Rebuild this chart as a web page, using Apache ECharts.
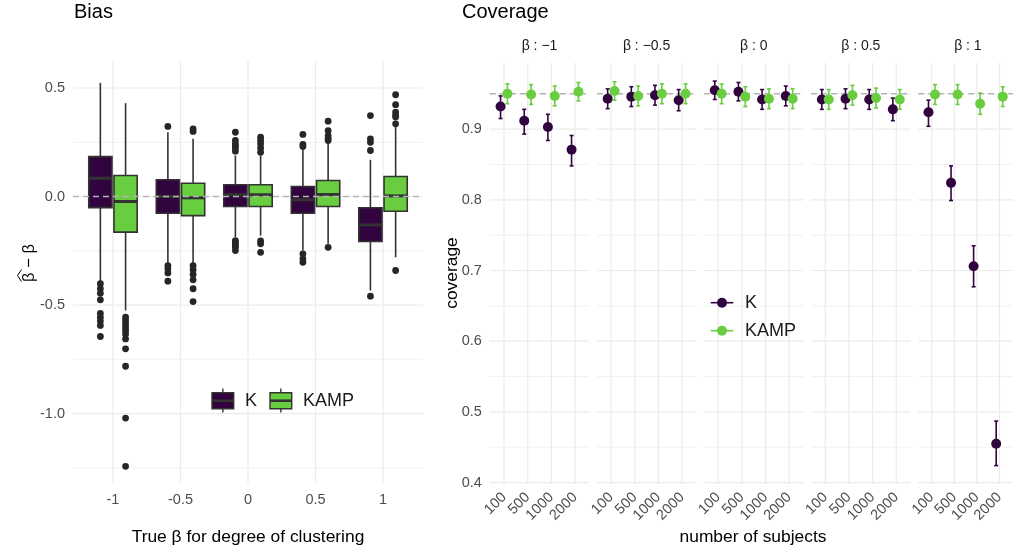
<!DOCTYPE html>
<html>
<head>
<meta charset="utf-8">
<script src="https://cdn.jsdelivr.net/npm/echarts@6/dist/echarts.min.js"></script>
<style>
  html, body { margin: 0; padding: 0; background: #ffffff; }
  #chart { width: 1013px; height: 551px; }
</style>
</head>
<body>
<div id="chart"></div>
<script>
// ---- data -------------------------------------------------------------
const betaLevels = [-1, -0.5, 0, 0.5, 1];
const methodNames = ['K', 'KAMP'];

// bias of beta-hat: [lower whisker, Q1, median, Q3, upper whisker] per beta level
const biasK = [
  [-0.395, -0.051, 0.084, 0.184, 0.524],
  [-0.307, -0.077, 0.000, 0.077, 0.296],
  [-0.187, -0.046, 0.008, 0.054, 0.189],
  [-0.249, -0.077, -0.015, 0.046, 0.215],
  [-0.433, -0.207, -0.131, -0.052, 0.169]
];
const biasKAMP = [
  [-0.525, -0.164, -0.023, 0.097, 0.430],
  [-0.307, -0.088, -0.006, 0.061, 0.266],
  [-0.180, -0.046, 0.008, 0.054, 0.189],
  [-0.218, -0.046, 0.009, 0.074, 0.250],
  [-0.280, -0.068, 0.003, 0.092, 0.320]
];
// points beyond the whiskers
const outliersK = [
  [-0.402, -0.425, -0.446, -0.476, -0.538, -0.556, -0.574, -0.594, -0.645],
  [0.323, -0.318, -0.333, -0.352, -0.390],
  [0.296, 0.258, 0.243, 0.234, 0.224, 0.209, -0.203, -0.210, -0.218, -0.226, -0.234, -0.249],
  [0.286, 0.240, 0.230, -0.264, -0.287, -0.303],
  [0.373, 0.266, 0.250, 0.212, -0.459]
];
const outliersKAMP = [
  [-0.556, -0.571, -0.587, -0.602, -0.617, -0.633, -0.656, -0.702, -0.782, -1.021, -1.243],
  [0.312, 0.300, -0.318, -0.338, -0.359, -0.384, -0.425, -0.484],
  [0.273, 0.258, 0.243, 0.224, 0.204, -0.205, -0.218, -0.257],
  [0.347, 0.304, 0.281, 0.268, 0.258, -0.234],
  [0.469, 0.423, 0.389, 0.375, 0.366, 0.335, -0.341]
];
const biasTarget = 0;
const biasTicks = [-1, -0.5, 0, 0.5];
const biasMinorTicks = [-1.25, -0.75, -0.25, 0.25];

// coverage per beta facet (rows) and number of subjects (columns)
const nSubjects = ['100', '500', '1000', '2000'];
const coverageK = [
  [0.932, 0.912, 0.903, 0.871],
  [0.943, 0.946, 0.948, 0.941],
  [0.955, 0.953, 0.942, 0.947],
  [0.942, 0.943, 0.942, 0.928],
  [0.924, 0.824, 0.706, 0.455]
];
const coverageKLower = [
  [0.915, 0.893, 0.884, 0.848],
  [0.929, 0.932, 0.934, 0.926],
  [0.942, 0.940, 0.928, 0.933],
  [0.928, 0.929, 0.928, 0.912],
  [0.904, 0.799, 0.677, 0.424]
];
const coverageKUpper = [
  [0.947, 0.928, 0.921, 0.891],
  [0.957, 0.960, 0.962, 0.956],
  [0.968, 0.966, 0.956, 0.961],
  [0.956, 0.957, 0.956, 0.944],
  [0.941, 0.848, 0.735, 0.487]
];
const coverageKAMP = [
  [0.950, 0.949, 0.947, 0.953],
  [0.954, 0.947, 0.950, 0.950],
  [0.950, 0.946, 0.943, 0.943],
  [0.942, 0.948, 0.944, 0.942],
  [0.949, 0.949, 0.936, 0.946]
];
const coverageKAMPLower = [
  [0.936, 0.935, 0.933, 0.940],
  [0.941, 0.933, 0.936, 0.936],
  [0.936, 0.932, 0.929, 0.929],
  [0.928, 0.934, 0.930, 0.928],
  [0.935, 0.935, 0.921, 0.932]
];
const coverageKAMPUpper = [
  [0.964, 0.963, 0.961, 0.966],
  [0.967, 0.961, 0.964, 0.964],
  [0.964, 0.960, 0.957, 0.957],
  [0.956, 0.962, 0.958, 0.956],
  [0.963, 0.963, 0.951, 0.960]
];
const nominalCoverage = 0.95;
const coverageTicks = [0.4, 0.5, 0.6, 0.7, 0.8, 0.9];
const coverageMinorTicks = [0.45, 0.55, 0.65, 0.75, 0.85, 0.95];

// ---- styling ----------------------------------------------------------
const FONT = '"Liberation Sans", Arial, Helvetica, sans-serif';
const COLORS = ['#32043F', '#69CD40'];
const INK = '#333333';
const AXIS_TEXT = '#4d4d4d';
const GRID_COLOR = '#ebebeb';

// layout of the two panels
const biasGrid = { left: 73, top: 60, width: 350, height: 423 };
const facetLeft0 = 489.8, facetPitch = 107.1, facetWidth = 99.4;
const facetTop = 62.7, facetHeight = 421.3;

// ---- helpers ----------------------------------------------------------
// background grid lines: kind 0 = vertical, 1 = horizontal major, 2 = horizontal minor
function gridLineSeries(axisIdx, xs, xMin, yMajor, yMinor, yMin) {
  const data = [];
  xs.forEach(v => data.push([v, yMin, 0]));
  yMajor.forEach(v => data.push([xMin, v, 1]));
  yMinor.forEach(v => data.push([xMin, v, 2]));
  return {
    type: 'custom', xAxisIndex: axisIdx, yAxisIndex: axisIdx, z: 1, silent: true,
    data: data,
    renderItem(params, api) {
      const cs = params.coordSys;
      const p = api.coord([api.value(0), api.value(1)]);
      const kind = api.value(2);
      const shape = kind === 0
        ? { x1: p[0], y1: cs.y, x2: p[0], y2: cs.y + cs.height }
        : { x1: cs.x, y1: p[1], x2: cs.x + cs.width, y2: p[1] };
      return { type: 'line', shape, style: { stroke: GRID_COLOR, lineWidth: kind === 2 ? 0.7 : 1.2 } };
    }
  };
}

// dashed horizontal reference line
function refLineSeries(axisIdx, xMin, value, z) {
  return {
    type: 'custom', xAxisIndex: axisIdx, yAxisIndex: axisIdx, z: z, silent: true,
    data: [[xMin, value]],
    renderItem(params, api) {
      const cs = params.coordSys;
      const p = api.coord([api.value(0), api.value(1)]);
      return {
        type: 'line',
        shape: { x1: cs.x, y1: p[1], x2: cs.x + cs.width, y2: p[1] },
        style: { stroke: '#b5b5b5', lineWidth: 1.4, lineDash: [6, 4] }
      };
    }
  };
}

// dodged box plots drawn through the axis scales
function boxSeries(m, summary, color) {
  const side = m === 0 ? -1 : 1;
  return {
    type: 'custom', name: methodNames[m], xAxisIndex: 0, yAxisIndex: 0, z: 3, silent: true,
    data: summary.map((s, i) => [betaLevels[i]].concat(s)),
    renderItem(params, api) {
      const x0 = api.coord([api.value(0), 0])[0];
      const unit = api.coord([0.5, 0])[0] - api.coord([0, 0])[0];
      const cx = x0 + side * 0.1867 * unit;
      const hw = 0.172 * unit;
      const y = k => api.coord([0, api.value(k)])[1];
      const yLo = y(1), yQ1 = y(2), yMed = y(3), yQ3 = y(4), yHi = y(5);
      return {
        type: 'group',
        children: [
          { type: 'line', shape: { x1: cx, y1: yQ3, x2: cx, y2: yHi }, style: { stroke: INK, lineWidth: 1.6 } },
          { type: 'line', shape: { x1: cx, y1: yQ1, x2: cx, y2: yLo }, style: { stroke: INK, lineWidth: 1.6 } },
          { type: 'rect', shape: { x: cx - hw, y: yQ3, width: 2 * hw, height: yQ1 - yQ3 },
            style: { fill: color, stroke: INK, lineWidth: 1.6 } },
          { type: 'line', shape: { x1: cx - hw, y1: yMed, x2: cx + hw, y2: yMed }, style: { stroke: INK, lineWidth: 3 } }
        ]
      };
    }
  };
}

function outlierSeries(m, outliers) {
  const side = m === 0 ? -1 : 1;
  const data = [];
  outliers.forEach((arr, i) => arr.forEach(v => data.push([betaLevels[i], v])));
  return {
    type: 'custom', xAxisIndex: 0, yAxisIndex: 0, z: 3, silent: true,
    data: data,
    renderItem(params, api) {
      const p = api.coord([api.value(0), api.value(1)]);
      const unit = api.coord([0.5, 0])[0] - api.coord([0, 0])[0];
      return { type: 'circle', shape: { cx: p[0] + side * 0.1867 * unit, cy: p[1], r: 3.4 }, style: { fill: '#262626' } };
    }
  };
}

// point + error bar for one method inside one facet
function coverageSeries(f, m, cov, lo, hi, color) {
  const side = m === 0 ? -1 : 1;
  return {
    type: 'custom', xAxisIndex: 1 + f, yAxisIndex: 1 + f, z: 3 + m, silent: true,
    data: cov[f].map((v, i) => [i, v, lo[f][i], hi[f][i]]),
    renderItem(params, api) {
      const unit = api.coord([1, 0.5])[0] - api.coord([0, 0.5])[0];
      const cx = api.coord([api.value(0), 0.5])[0] + side * 0.145 * unit;
      const yP = api.coord([0, api.value(1)])[1];
      const yL = api.coord([0, api.value(2)])[1];
      const yH = api.coord([0, api.value(3)])[1];
      const st = { stroke: color, lineWidth: 1.6 };
      return {
        type: 'group',
        children: [
          { type: 'line', shape: { x1: cx, y1: yL, x2: cx, y2: yH }, style: st },
          { type: 'line', shape: { x1: cx - 2, y1: yL, x2: cx + 2, y2: yL }, style: st },
          { type: 'line', shape: { x1: cx - 2, y1: yH, x2: cx + 2, y2: yH }, style: st },
          { type: 'circle', shape: { cx: cx, cy: yP, r: 5 }, style: { fill: color } }
        ]
      };
    }
  };
}

function txt(text, x, y, size, color, extra) {
  return Object.assign({
    type: 'text', x: x, y: y, z: 20, silent: true,
    style: {
      text: text, fontSize: size, fontFamily: FONT, fill: color,
      align: 'left', textAlign: 'left', verticalAlign: 'middle', textVerticalAlign: 'middle'
    }
  }, extra || {});
}
function centered(el) {
  el.style.align = 'center'; el.style.textAlign = 'center';
  return el;
}
function shape(type, shp, style) {
  return { type: type, z: 20, silent: true, shape: shp, style: style };
}

// ---- axes and grids ---------------------------------------------------
const grids = [biasGrid];
const xAxes = [{
  gridIndex: 0, type: 'value', min: -1.296, max: 1.296,
  axisLine: { show: false }, axisTick: { show: false }, splitLine: { show: false },
  axisLabel: { customValues: betaLevels, formatter: v => String(v), color: AXIS_TEXT, fontSize: 14.5, fontFamily: FONT, margin: 9 }
}];
const yAxes = [{
  gridIndex: 0, type: 'value', min: -1.32, max: 0.629,
  axisLine: { show: false }, axisTick: { show: false }, splitLine: { show: false },
  axisLabel: { customValues: biasTicks, formatter: v => v.toFixed(1), color: AXIS_TEXT, fontSize: 14.5, fontFamily: FONT, margin: 8 }
}];
const facetIdx = [0, 1, 2, 3];
betaLevels.forEach((b, f) => {
  grids.push({ left: facetLeft0 + f * facetPitch, top: facetTop, width: facetWidth, height: facetHeight });
  xAxes.push({
    gridIndex: 1 + f, type: 'value', min: -0.6, max: 3.6,
    axisLine: { show: false }, axisTick: { show: false }, splitLine: { show: false },
    axisLabel: { customValues: facetIdx, formatter: v => nSubjects[Math.round(v)], rotate: 45,
      color: AXIS_TEXT, fontSize: 14.5, fontFamily: FONT, margin: 11 }
  });
  yAxes.push({
    gridIndex: 1 + f, type: 'value', min: 0.398, max: 0.994,
    axisLine: { show: false }, axisTick: { show: false }, splitLine: { show: false },
    axisLabel: { show: f === 0, customValues: coverageTicks, formatter: v => v.toFixed(1),
      color: AXIS_TEXT, fontSize: 14.5, fontFamily: FONT, margin: 8 }
  });
});

// ---- series -----------------------------------------------------------
const series = [
  gridLineSeries(0, betaLevels, -1.296, biasTicks, biasMinorTicks, -1.32),
  boxSeries(0, biasK, COLORS[0]),
  boxSeries(1, biasKAMP, COLORS[1]),
  outlierSeries(0, outliersK),
  outlierSeries(1, outliersKAMP),
  refLineSeries(0, -1.296, biasTarget, 5)
];
betaLevels.forEach((b, f) => {
  series.push(gridLineSeries(1 + f, facetIdx, -0.6, coverageTicks, coverageMinorTicks, 0.398));
  series.push(refLineSeries(1 + f, -0.6, nominalCoverage, 2));
  series.push(coverageSeries(f, 0, coverageK, coverageKLower, coverageKUpper, COLORS[0]));
  series.push(coverageSeries(f, 1, coverageKAMP, coverageKAMPLower, coverageKAMPUpper, COLORS[1]));
});

// ---- titles, strips, legends ------------------------------------------
const graphics = [
  txt('Bias', 74, 12, 20, '#000000'),
  txt('Coverage', 462, 12, 20, '#000000'),
  // estimator minus truth, with a hat over the first beta
  centered(txt('β − β', 29, 263, 16.5, '#000000', { rotation: Math.PI / 2 })),
  shape('polyline', { points: [[21.5, 269.5], [17.5, 275.5], [21.5, 281.5]] }, { stroke: '#000000', lineWidth: 1, fill: null }),
  centered(txt('coverage', 452, 273, 17.4, '#000000', { rotation: Math.PI / 2 })),
  centered(txt('True β for degree of clustering', 248, 537, 17.4, '#000000')),
  centered(txt('number of subjects', 753, 537, 17.4, '#000000'))
];
betaLevels.forEach((b, f) => {
  const label = 'β : ' + (b < 0 ? '−' + Math.abs(b) : String(b));
  graphics.push(centered(txt(label, facetLeft0 + f * facetPitch + facetWidth / 2, 46.5, 14, '#1a1a1a')));
});
// box legend in the bias panel
[212, 270].forEach((kx, m) => {
  const cx = kx + 10.85;
  graphics.push(shape('line', { x1: cx, y1: 388.5, x2: cx, y2: 412.5 }, { stroke: INK, lineWidth: 1.4 }));
  graphics.push(shape('rect', { x: kx, y: 392.7, width: 21.7, height: 16 }, { fill: COLORS[m], stroke: INK, lineWidth: 1.4 }));
  graphics.push(shape('line', { x1: kx, y1: 400.7, x2: kx + 21.7, y2: 400.7 }, { stroke: INK, lineWidth: 2.6 }));
  graphics.push(txt(methodNames[m], kx + 33, 401.5, 18, '#1a1a1a'));
});
// point legend in the coverage panel
[302.7, 330.7].forEach((ly, m) => {
  graphics.push(shape('line', { x1: 710.7, y1: ly, x2: 733.3, y2: ly }, { stroke: COLORS[m], lineWidth: 1.6 }));
  graphics.push(shape('circle', { cx: 722, cy: ly, r: 5 }, { fill: COLORS[m] }));
  graphics.push(txt(methodNames[m], 745, ly + 0.5, 18, '#1a1a1a'));
});

const chart = echarts.init(document.getElementById('chart'), null, { renderer: 'canvas' });
chart.setOption({
  animation: false,
  backgroundColor: '#ffffff',
  textStyle: { fontFamily: FONT },
  grid: grids,
  xAxis: xAxes,
  yAxis: yAxes,
  series: series,
  graphic: graphics
});
</script>
</body>
</html>
